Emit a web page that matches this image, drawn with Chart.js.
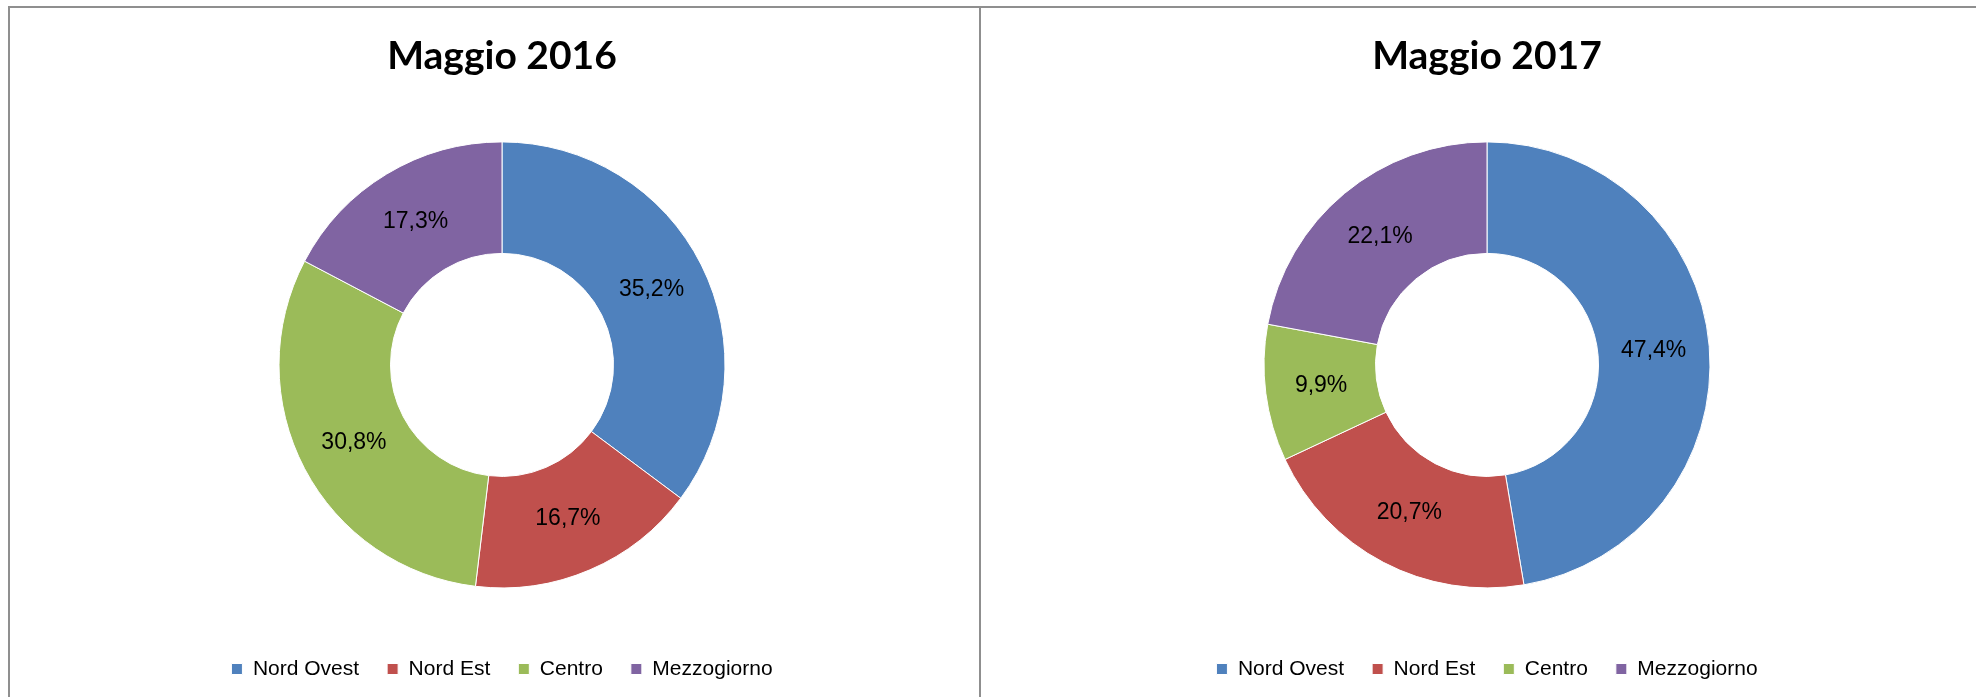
<!DOCTYPE html>
<html>
<head>
<meta charset="utf-8">
<script src="https://cdn.jsdelivr.net/npm/chart.js@4/dist/chart.umd.min.js"></script>
<style>
  body { margin: 0; background: #fff; width: 1976px; height: 697px; overflow: hidden; position: relative; }
  #frame { position: absolute; left: 8px; top: 6px; width: 1990px; height: 720px; border-top: 2px solid #8f8f8f; border-left: 2px solid #8f8f8f; }
  #divider { position: absolute; left: 979px; top: 6px; width: 2px; height: 720px; background: #8f8f8f; }
  canvas { position: absolute; top: 8px; }
  #chart2016 { left: 10px; }
  #chart2017 { left: 981px; }
</style>
</head>
<body>
<div id="frame"></div>
<div id="divider"></div>
<canvas id="chart2016" width="969" height="689"></canvas>
<canvas id="chart2017" width="995" height="689"></canvas>
<script>
var categories = ['Nord Ovest', 'Nord Est', 'Centro', 'Mezzogiorno'];
var values2016 = [35.2, 16.7, 30.8, 17.3];
var values2017 = [47.4, 20.7, 9.9, 22.1];
var colors = ['#4F81BD', '#C0504D', '#9BBB59', '#8064A2'];

// percent labels in the middle of each slice
var sliceLabels = {
    id: 'sliceLabels',
    afterDatasetsDraw: function(chart) {
        var ctx = chart.ctx;
        var meta = chart.getDatasetMeta(0);
        var data = chart.data.datasets[0].data;
        ctx.save();
        ctx.font = '23px "Liberation Sans", Arial, sans-serif';
        ctx.fillStyle = '#000';
        ctx.textAlign = 'center';
        ctx.textBaseline = 'middle';
        meta.data.forEach(function(arc, i) {
            var p = arc.getCenterPoint();
            ctx.fillText(data[i].toFixed(1).replace('.', ',') + '%', p.x, p.y);
        });
        ctx.restore();
    }
};

function makeDonut(id, title, values, padLeft) {
    var ctx = document.getElementById(id).getContext('2d');
    return new Chart(ctx, {
        type: 'doughnut',
        data: {
            labels: categories,
            datasets: [{
                data: values,
                backgroundColor: colors,
                borderColor: '#ffffff',
                borderWidth: 1
            }]
        },
        options: {
            responsive: false,
            animation: false,
            radius: 223,
            cutout: '50%',
            layout: { padding: { left: padLeft, bottom: 7.5 } },
            plugins: {
                title: {
                    display: true,
                    text: title,
                    color: '#000',
                    font: { family: 'Lato', weight: 'bold', size: 39, lineHeight: 1.2 },
                    padding: { top: 25.5, bottom: 19 }
                },
                legend: {
                    position: 'bottom',
                    labels: {
                        color: '#000',
                        font: { family: '"Liberation Sans", Arial', size: 21 },
                        boxWidth: 11,
                        boxHeight: 11,
                        padding: 28
                    }
                },
                tooltip: { enabled: false }
            }
        },
        plugins: [sliceLabels]
    });
}

makeDonut('chart2016', 'Maggio 2016', values2016, 15);
makeDonut('chart2017', 'Maggio 2017', values2017, 17);
</script>
</body>
</html>
